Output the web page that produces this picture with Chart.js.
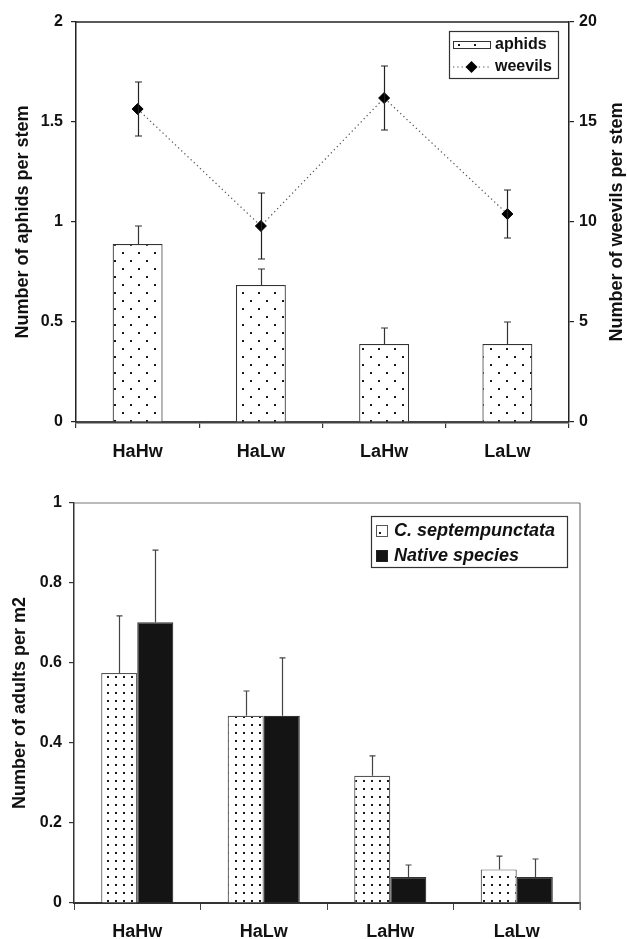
<!DOCTYPE html>
<html>
<head>
<meta charset="utf-8">
<script src="https://cdn.jsdelivr.net/npm/chart.js@4.4.0/dist/chart.umd.min.js"></script>
<style>
html, body { margin: 0; padding: 0; background: #fff; overflow: hidden; }
#wrap { position: relative; width: 627px; height: 939px; overflow: hidden; }
#c1 { position: absolute; left: 0; top: 0; }
#c2 { position: absolute; left: 0; top: 465px; }
</style>
</head>
<body>
<div id="wrap">
  <canvas id="c1" width="627" height="465"></canvas>
  <canvas id="c2" width="627" height="480"></canvas>
</div>
<script>
const groups = ['HaHw', 'HaLw', 'LaHw', 'LaLw'];

// top panel: aphids (bars, left axis) and weevils (line, right axis)
const aphids = [0.89, 0.685, 0.39, 0.39];
const aphidsErr = [0.09, 0.08, 0.08, 0.11];
const weevils = [15.65, 9.8, 16.2, 10.4];
const weevilsErr = [1.35, 1.65, 1.6, 1.2];
const aphidTicks = [0, 0.5, 1, 1.5, 2];
const weevilTicks = [0, 5, 10, 15, 20];

// bottom panel: adults per m2
const septem = [0.575, 0.468, 0.318, 0.084];
const septemErr = [0.143, 0.062, 0.05, 0.033];
const natives = [0.702, 0.468, 0.065, 0.065];
const nativesErr = [0.18, 0.145, 0.03, 0.045];
const adultTicks = [0, 0.2, 0.4, 0.6, 0.8, 1];

const FONT = "'Liberation Sans', Arial, Helvetica, sans-serif";
const INK = '#111';

function dotPattern(canvasId, w, h, dots) {
    const c = document.createElement('canvas');
    c.width = w;
    c.height = h;
    const g = c.getContext('2d');
    g.fillStyle = '#fff';
    g.fillRect(0, 0, w, h);
    g.fillStyle = '#1a1a1a';
    dots.forEach(([x, y]) => g.fillRect(x, y, 2, 2));
    return document.getElementById(canvasId).getContext('2d').createPattern(c, 'repeat');
}

const dotsTop = dotPattern('c1', 16, 16, [[2, 4], [10, 12]]);
const dotsBottom = dotPattern('c2', 8, 8, [[3, 3]]);

// plain number labels: 2, 1.5, 1, 0.5, 0
const plainTick = v => String(v);

// error bars drawn from the dataset's own scale
const errorBars = {
    id: 'errorBars',
    afterDatasetsDraw(chart) {
        const ctx = chart.ctx;
        chart.data.datasets.forEach((ds, i) => {
            if (!ds.errors) return;
            const meta = chart.getDatasetMeta(i);
            const scale = chart.scales[meta.yAxisID];
            const cap = ds.errorCap || 3;
            ctx.save();
            ctx.strokeStyle = ds.errorColor || '#333';
            ctx.lineWidth = 1.2;
            meta.data.forEach((el, j) => {
                const x = Math.round(el.x) + 0.5;
                const top = scale.getPixelForValue(ds.data[j] + ds.errors[j]);
                const bot = scale.getPixelForValue(ds.errorBoth ? ds.data[j] - ds.errors[j] : ds.data[j]);
                ctx.beginPath();
                ctx.moveTo(x, bot);
                ctx.lineTo(x, top);
                ctx.moveTo(x - cap, top);
                ctx.lineTo(x + cap, top);
                if (ds.errorBoth) {
                    ctx.moveTo(x - cap, bot);
                    ctx.lineTo(x + cap, bot);
                }
                ctx.stroke();
            });
            ctx.restore();
        });
    }
};

// top / right border lines of the plot box
const frame = {
    id: 'frame',
    afterDraw(chart, args, opts) {
        const {ctx, chartArea: a} = chart;
        ctx.save();
        if (opts.top) {
            ctx.strokeStyle = opts.top.color;
            ctx.lineWidth = opts.top.width;
            ctx.beginPath();
            ctx.moveTo(a.left, a.top);
            ctx.lineTo(a.right, a.top);
            ctx.stroke();
        }
        if (opts.right) {
            ctx.strokeStyle = opts.right.color;
            ctx.lineWidth = opts.right.width;
            ctx.beginPath();
            ctx.moveTo(a.right, a.top);
            ctx.lineTo(a.right, a.bottom + 7);
            ctx.stroke();
        }
        ctx.restore();
    }
};

// boxed legend inside the plot
const boxLegend = {
    id: 'boxLegend',
    afterDraw(chart, args, opts) {
        if (!opts.box) return;
        const ctx = chart.ctx;
        const [bx, by, bw, bh] = opts.box;
        ctx.save();
        ctx.fillStyle = '#fff';
        ctx.fillRect(bx, by, bw, bh);
        ctx.strokeStyle = '#333';
        ctx.lineWidth = 1.2;
        ctx.strokeRect(bx + 0.5, by + 0.5, bw, bh);
        opts.items.forEach(it => {
            opts.drawSwatch(ctx, it);
            ctx.fillStyle = INK;
            ctx.font = opts.font;
            ctx.textBaseline = 'middle';
            ctx.textAlign = 'left';
            ctx.fillText(it.text, it.tx, it.y);
        });
        ctx.restore();
    }
};

// right-hand axis title reading bottom to top
const sideTitle = {
    id: 'sideTitle',
    afterDraw(chart, args, opts) {
        if (!opts.text) return;
        const {ctx, chartArea: a} = chart;
        ctx.save();
        ctx.translate(opts.x, (a.top + a.bottom) / 2);
        ctx.rotate(-Math.PI / 2);
        ctx.font = 'bold 18px ' + FONT;
        ctx.fillStyle = INK;
        ctx.textAlign = 'center';
        ctx.textBaseline = 'middle';
        ctx.fillText(opts.text, 0, 0);
        ctx.restore();
    }
};

const tickFont = {family: FONT, size: 16, weight: 'bold'};
const catFont = {family: FONT, size: 18, weight: 'bold'};
const titleFont = {family: FONT, size: 18, weight: 'bold'};

new Chart(document.getElementById('c1'), {
    type: 'bar',
    data: {
        labels: groups,
        datasets: [
            {
                type: 'line',
                label: 'weevils',
                data: weevils,
                yAxisID: 'y2',
                order: 0,
                borderColor: '#555',
                borderWidth: 1.2,
                borderDash: [1.3, 3],
                pointStyle: 'rectRot',
                pointRadius: 5.5,
                pointBackgroundColor: '#000',
                pointBorderColor: '#000',
                pointBorderWidth: 1,
                errors: weevilsErr,
                errorBoth: true,
                errorCap: 3.5,
                errorColor: '#222'
            },
            {
                label: 'aphids',
                data: aphids,
                yAxisID: 'y',
                order: 1,
                backgroundColor: dotsTop,
                borderColor: '#333',
                borderWidth: 1.2,
                barPercentage: 0.405,
                categoryPercentage: 1,
                errors: aphidsErr,
                errorCap: 3.5,
                errorColor: '#333'
            }
        ]
    },
    options: {
        responsive: false,
        animation: false,
        devicePixelRatio: 1,
        layout: {padding: {top: 22, left: 0, right: 0, bottom: 0}},
        plugins: {
            legend: {display: false},
            tooltip: {enabled: false},
            frame: {top: {color: '#222', width: 1.5}},
            sideTitle: {text: 'Number of weevils per stem', x: 617},
            boxLegend: {
                box: [449, 31, 109, 47],
                font: 'bold 16px ' + FONT,
                items: [
                    {text: 'aphids', tx: 495, y: 45, kind: 'bar'},
                    {text: 'weevils', tx: 495, y: 67, kind: 'line'}
                ],
                drawSwatch(ctx, it) {
                    if (it.kind === 'bar') {
                        ctx.fillStyle = dotsTop;
                        ctx.fillRect(453, it.y - 4, 37, 8);
                        ctx.strokeStyle = '#333';
                        ctx.lineWidth = 1;
                        ctx.strokeRect(453.5, it.y - 3.5, 37, 7);
                    } else {
                        ctx.strokeStyle = '#555';
                        ctx.lineWidth = 1.2;
                        ctx.setLineDash([1.3, 3]);
                        ctx.beginPath();
                        ctx.moveTo(453, it.y);
                        ctx.lineTo(490, it.y);
                        ctx.stroke();
                        ctx.setLineDash([]);
                        ctx.fillStyle = '#000';
                        ctx.beginPath();
                        ctx.moveTo(471.5, it.y - 6);
                        ctx.lineTo(477.5, it.y);
                        ctx.lineTo(471.5, it.y + 6);
                        ctx.lineTo(465.5, it.y);
                        ctx.closePath();
                        ctx.fill();
                    }
                }
            }
        },
        scales: {
            x: {
                offset: true,
                grid: {display: true, drawOnChartArea: false, offset: true, tickLength: 6, color: '#333', lineWidth: 1.2},
                border: {color: '#444', width: 2.5},
                ticks: {font: catFont, color: INK, padding: 13},
                afterFit: s => { s.height = 43; }
            },
            y: {
                position: 'left',
                min: 0,
                max: 2,
                afterBuildTicks: s => { s.ticks = aphidTicks.map(v => ({value: v})); },
                grid: {drawOnChartArea: false, tickLength: 5, color: '#222', lineWidth: 1.2},
                border: {color: '#222', width: 1.5},
                ticks: {font: tickFont, color: INK, padding: 8, callback: plainTick},
                title: {display: true, text: 'Number of aphids per stem', font: titleFont, color: INK, padding: {top: 12, bottom: 0}},
                afterFit: s => { s.width = 76; }
            },
            y2: {
                position: 'right',
                min: 0,
                max: 20,
                afterBuildTicks: s => { s.ticks = weevilTicks.map(v => ({value: v})); },
                grid: {drawOnChartArea: false, tickLength: 5, color: '#222', lineWidth: 1.2},
                border: {color: '#222', width: 1.5},
                ticks: {font: tickFont, color: INK, padding: 5, callback: plainTick},
                afterFit: s => { s.width = 58; }
            }
        }
    },
    plugins: [errorBars, frame, boxLegend, sideTitle]
});

new Chart(document.getElementById('c2'), {
    type: 'bar',
    data: {
        labels: groups,
        datasets: [
            {
                label: 'C. septempunctata',
                data: septem,
                backgroundColor: dotsBottom,
                borderColor: '#555',
                borderWidth: 1.2,
                errors: septemErr,
                errorCap: 3,
                errorColor: '#444'
            },
            {
                label: 'Native species',
                data: natives,
                backgroundColor: '#141414',
                borderColor: '#333',
                borderWidth: 1.2,
                errors: nativesErr,
                errorCap: 3,
                errorColor: '#444'
            }
        ]
    },
    options: {
        responsive: false,
        animation: false,
        devicePixelRatio: 1,
        layout: {padding: {top: 38, left: 0, right: 47, bottom: 0}},
        datasets: {bar: {barPercentage: 1, categoryPercentage: 0.57}},
        plugins: {
            legend: {display: false},
            tooltip: {enabled: false},
            frame: {top: {color: '#777', width: 1.2}, right: {color: '#777', width: 1.2}},
            boxLegend: {
                box: [371, 51, 196, 51],
                font: 'italic bold 18px ' + FONT,
                items: [
                    {text: 'C. septempunctata', tx: 394, y: 66, kind: 'dots'},
                    {text: 'Native species', tx: 394, y: 91, kind: 'solid'}
                ],
                drawSwatch(ctx, it) {
                    ctx.lineWidth = 1;
                    if (it.kind === 'dots') {
                        ctx.fillStyle = dotsBottom;
                        ctx.fillRect(377, it.y - 5, 11, 11);
                        ctx.strokeStyle = '#555';
                    } else {
                        ctx.fillStyle = '#141414';
                        ctx.fillRect(377, it.y - 5, 11, 11);
                        ctx.strokeStyle = '#222';
                    }
                    ctx.strokeRect(376.5, it.y - 5.5, 11, 11);
                }
            }
        },
        scales: {
            x: {
                offset: true,
                grid: {display: true, drawOnChartArea: false, offset: true, tickLength: 7, color: '#444', lineWidth: 1},
                border: {color: '#333', width: 2},
                ticks: {font: catFont, color: INK, padding: 11},
                afterFit: s => { s.height = 42; }
            },
            y: {
                min: 0,
                max: 1,
                afterBuildTicks: s => { s.ticks = adultTicks.map(v => ({value: v})); },
                grid: {drawOnChartArea: false, tickLength: 5, color: '#333', lineWidth: 1.2},
                border: {color: '#333', width: 1.5},
                ticks: {font: tickFont, color: INK, padding: 7, callback: plainTick},
                title: {display: true, text: 'Number of adults per m2', font: titleFont, color: INK, padding: {top: 9, bottom: 0}},
                afterFit: s => { s.width = 74; }
            }
        }
    },
    plugins: [errorBars, frame, boxLegend]
});
</script>
</body>
</html>
